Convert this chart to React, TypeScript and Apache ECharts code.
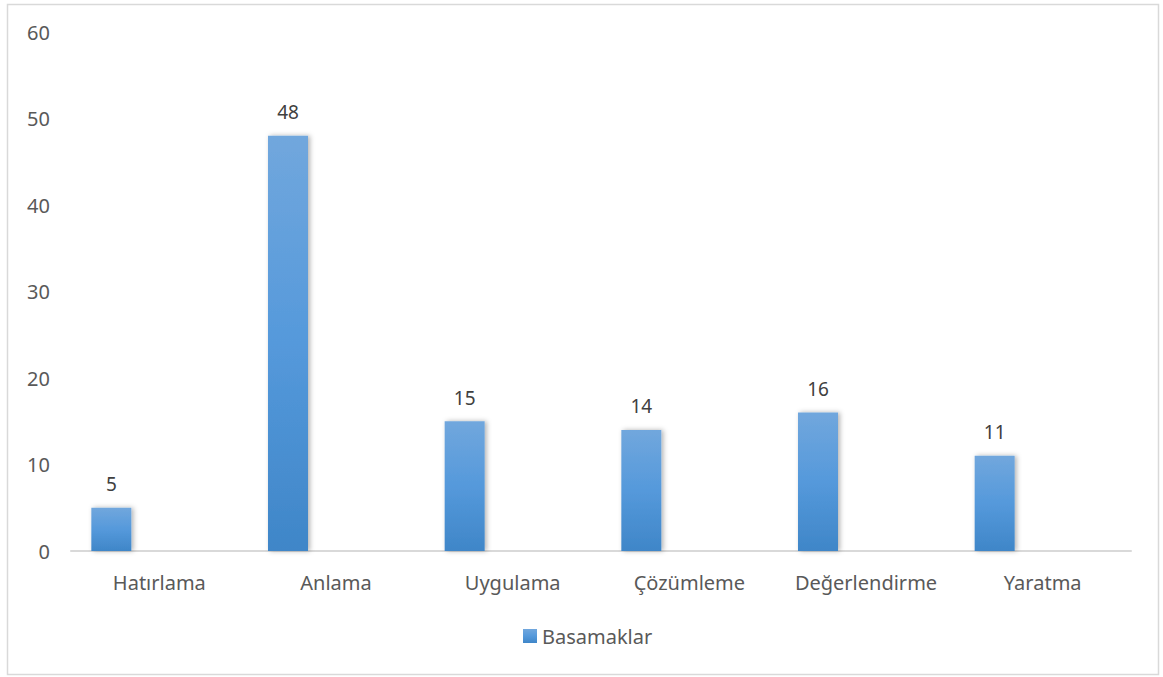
import React, { useEffect, useRef } from "react";
import * as echarts from "echarts";

// Bloom taxonomy levels and their counts
const categories = ["Hatırlama", "Anlama", "Uygulama", "Çözümleme", "Değerlendirme", "Yaratma"];
const values = [5, 48, 15, 14, 16, 11];
const seriesName = "Basamaklar";
const yTicks = { min: 0, max: 60, interval: 10 };

const FONT = "'Noto Sans', 'Open Sans', sans-serif";

export default function App() {
  const ref = useRef<HTMLDivElement>(null);

  useEffect(() => {
    if (!ref.current) return;
    const chart = echarts.init(ref.current, undefined, { renderer: "svg" });

    const barColor = new echarts.graphic.LinearGradient(0, 0, 0, 1, [
      { offset: 0, color: "#71a7dd" },
      { offset: 0.5, color: "#5599db" },
      { offset: 1, color: "#3f86c8" },
    ]);

    chart.setOption({
      animation: false,
      backgroundColor: "#ffffff",
      textStyle: { fontFamily: FONT },
      graphic: [
        {
          type: "rect",
          shape: { x: 7.5, y: 4.5, width: 1151, height: 670 },
          style: { fill: "none", stroke: "#d9d9d9", lineWidth: 1.5 },
          silent: true,
        },
      ],
      grid: { left: 71, right: 32, top: 32, bottom: 126 },
      legend: {
        data: [{ name: seriesName, icon: "rect" }],
        left: 518,
        top: 621,
        itemWidth: 14,
        itemHeight: 14,
        itemGap: 6,
        textStyle: { fontSize: 20, color: "#595959", fontFamily: FONT },
      },
      xAxis: {
        type: "category",
        data: categories,
        axisLine: { lineStyle: { color: "#d9d9d9", width: 2 } },
        axisTick: { show: false },
        axisLabel: {
          interval: 0,
          fontSize: 20,
          color: "#595959",
          margin: 21,
          fontFamily: FONT,
        },
      },
      yAxis: {
        type: "value",
        min: yTicks.min,
        max: yTicks.max,
        interval: yTicks.interval,
        axisLine: { show: false },
        axisTick: { show: false },
        splitLine: { show: false },
        axisLabel: { fontSize: 20, color: "#595959", margin: 21, fontFamily: FONT },
      },
      series: [
        {
          name: seriesName,
          type: "bar",
          data: values,
          barWidth: 40,
          barGap: "140%",
          itemStyle: {
            color: barColor,
            shadowBlur: 5,
            shadowColor: "rgba(0,0,0,0.3)",
            shadowOffsetX: 2,
            shadowOffsetY: 0,
          },
          label: {
            show: true,
            position: "top",
            distance: 14,
            fontSize: 19,
            color: "#404040",
            fontFamily: FONT,
          },
        },
        {
          name: "",
          type: "bar",
          data: values.map(() => null),
          barWidth: 40,
        },
      ],
    });

    return () => chart.dispose();
  }, []);

  return (
    <div
      ref={ref}
      style={{ position: "fixed", left: 0, top: 0, width: 1163, height: 677 }}
    />
  );
}
